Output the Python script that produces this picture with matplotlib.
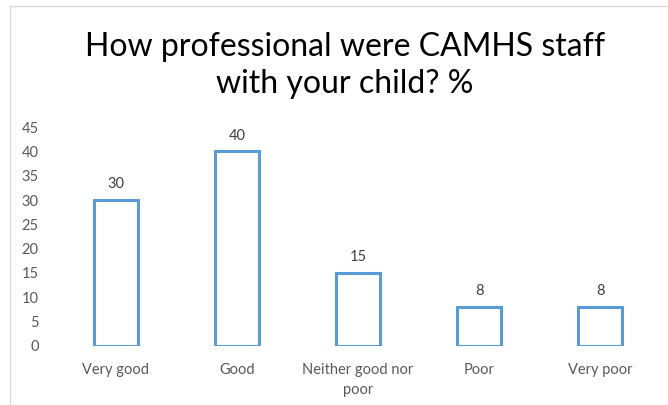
import matplotlib.pyplot as plt
from matplotlib.lines import Line2D

categories = ['Very good', 'Good', 'Neither good nor\npoor', 'Poor', 'Very poor']
values = [30, 40, 15, 8, 8]
yticks = [0, 5, 10, 15, 20, 25, 30, 35, 40, 45]

plt.rcParams['font.family'] = ['Lato', 'DejaVu Sans']

fig = plt.figure(figsize=(6.68, 4.05), dpi=100)
ax = fig.add_axes([0.083, 0.1457, 0.906, 0.5407])

x = range(len(categories))
bars = ax.bar(x, values, width=0.36, facecolor='white', edgecolor='#5B9BD5', linewidth=2.2)

for xi, v in zip(x, values):
    ax.text(xi, v + 1.8, str(v), ha='center', va='bottom', fontsize=10.5, color='#404040')

ax.set_xlim(-0.5, len(categories) - 0.5)
ax.set_ylim(0, 45)
ax.set_yticks(yticks)
ax.set_xticks(list(x))
ax.set_xticklabels(categories, fontsize=10.5, color='#595959', linespacing=1.55)
ax.tick_params(axis='y', labelsize=10.5, labelcolor='#595959', length=0, pad=12)
ax.tick_params(axis='x', length=0, pad=12)
for s in ax.spines.values():
    s.set_visible(False)

fig.text(0.516, 0.839, 'How professional were CAMHS staff\nwith your child? %', ha='center', va='center',
         fontsize=23, color='black', linespacing=1.3)

# chart area border
fig.add_artist(Line2D([10 / 668, 10 / 668], [0, 1 - 6 / 405], color='#D9D9D9', linewidth=1))
fig.add_artist(Line2D([10 / 668, 1], [1 - 6 / 405, 1 - 6 / 405], color='#D9D9D9', linewidth=1))

fig.savefig('out.png', dpi=100)
